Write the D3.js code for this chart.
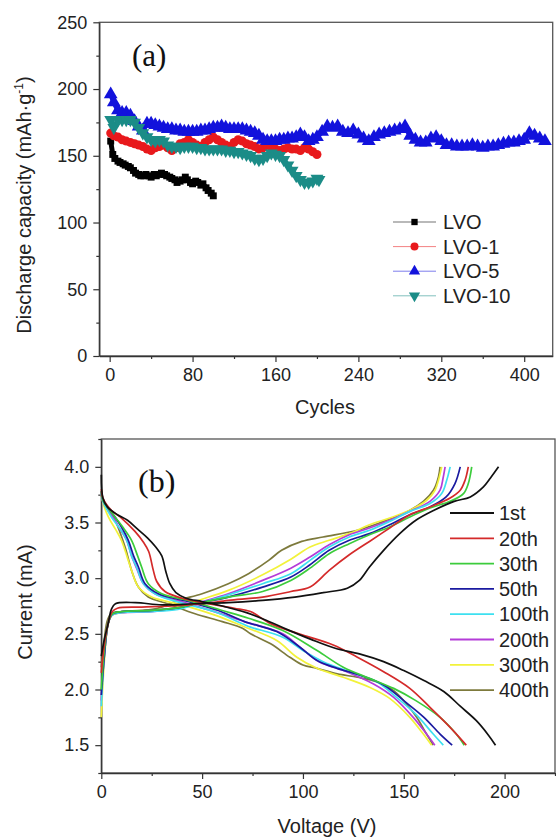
<!DOCTYPE html>
<html>
<head>
<meta charset="utf-8">
<script src="https://cdn.jsdelivr.net/npm/d3@7"></script>
<style>
  body { margin: 0; background: #fff; }
  svg { display: block; }
</style>
</head>
<body>
<script>
// ---- panel (a) data: [cycle, discharge capacity]
const lvo = [[1,161],[3,151],[5,148],[8,146],[10,145],[13,144],[15,143],[18,142],[20,141],[23,139],[25,137],[28,136],[30,135],[33,135],[35,136],[38,135],[40,134],[43,136],[45,135],[48,136],[50,137],[53,136],[55,135],[58,134],[60,133],[63,132],[65,130],[68,131],[70,132],[73,134],[75,132],[78,130],[80,129],[83,131],[85,130],[88,128],[90,129],[93,126],[95,124],[98,122],[100,120]];
const lvo1 = [[1,167],[4,165],[8,164],[12,162],[16,161],[20,160],[24,159],[28,158],[32,157],[36,155],[40,154],[44,156],[48,157],[52,158],[56,156],[60,154],[64,156],[68,159],[72,160],[76,162],[80,160],[84,158],[88,157],[92,160],[96,162],[100,164],[104,162],[108,160],[112,158],[116,157],[120,160],[124,162],[128,161],[132,159],[136,158],[140,157],[144,155],[148,156],[152,158],[156,156],[160,155],[164,154],[168,155],[172,156],[176,155],[180,155],[184,154],[188,156],[192,155],[196,153],[200,151]];
const lvo5 = [[1,196],[4,190],[8,184],[12,182],[16,182],[20,180],[24,176],[28,172],[32,169],[36,174],[40,174],[44,173],[48,172],[52,171],[56,170],[60,170],[64,169],[68,169],[72,168],[76,168],[80,168],[84,168],[88,169],[92,169],[96,170],[100,171],[104,171],[108,172],[112,171],[116,170],[120,170],[124,170],[128,170],[132,169],[136,168],[140,167],[144,165],[148,162],[152,161],[156,161],[160,161],[164,162],[168,162],[172,163],[176,163],[180,164],[184,166],[188,164],[192,161],[196,162],[200,164],[205,168],[210,172],[215,171],[220,172],[225,168],[230,167],[235,169],[240,166],[245,163],[250,161],[255,164],[260,166],[265,167],[270,168],[275,169],[280,170],[285,172],[290,165],[295,162],[300,160],[305,160],[310,163],[315,164],[320,161],[325,158],[330,158],[335,157],[340,157],[345,157],[350,158],[355,157],[360,156],[365,157],[370,157],[375,158],[380,159],[385,160],[390,160],[395,161],[400,162],[405,167],[410,165],[415,163],[420,161]];
const lvo10 = [[1,177],[4,171],[8,177],[12,177],[16,177],[20,177],[24,175],[28,171],[32,167],[36,164],[40,162],[44,161],[48,162],[52,161],[56,158],[60,157],[64,157],[68,156],[72,157],[76,157],[80,157],[84,156],[88,156],[92,155],[96,155],[100,155],[104,155],[108,155],[112,154],[116,154],[120,153],[124,153],[128,152],[132,151],[136,150],[140,148],[144,147],[148,148],[152,150],[156,152],[160,151],[164,150],[168,147],[172,143],[176,139],[180,135],[184,132],[188,130],[192,130],[196,131],[200,133],[202,132]];
const sampleNames = ["LVO", "LVO-1", "LVO-5", "LVO-10"];
const cycleTicks = [0, 80, 160, 240, 320, 400];
const cycleMinorTicks = [40, 120, 200, 280, 360];
const capacityTicks = [0, 50, 100, 150, 200, 250];
const capacityMinorTicks = [25, 75, 125, 175, 225];

// ---- panel (b) data: [x, current] per cycle
const cycleNames = ["1st", "20th", "30th", "50th", "100th", "200th", "300th", "400th"];
const discharge1st = [[0,3.93],[0.8,3.72],[3,3.64],[8,3.57],[13,3.52],[18,3.44],[23,3.36],[27,3.28],[30,3.2],[32,3.06],[34,2.95],[37,2.87],[42,2.82],[50,2.79],[60,2.75],[72,2.69],[82,2.62],[92,2.54],[104,2.45],[116,2.37],[128,2.32],[140,2.25],[150,2.17],[160,2.08],[170,1.98],[178,1.85],[186,1.72],[192,1.59],[195.5,1.5]];
const discharge20th = [[0,3.8],[0.8,3.72],[5,3.61],[10,3.54],[16.7,3.42],[21,3.32],[23.5,3.24],[25.8,3.07],[27.5,2.97],[31.6,2.88],[40,2.82],[53,2.77],[66,2.73],[74,2.7],[84,2.59],[98,2.5],[115,2.4],[127,2.29],[140,2.16],[153,2.01],[163,1.84],[173,1.66],[181,1.5]];
const discharge30th = [[0,3.78],[0.8,3.7],[6.8,3.55],[11,3.45],[15,3.34],[18,3.2],[20,3.1],[23.3,2.95],[30,2.86],[43,2.8],[60,2.71],[73,2.64],[90,2.53],[107,2.35],[120,2.2],[133,2.1],[145,2.01],[156,1.9],[168,1.75],[176,1.6],[180,1.5]];
const discharge50th = [[0,3.78],[0.8,3.7],[6,3.57],[10,3.46],[13.4,3.34],[16,3.2],[18.4,3.1],[21.7,2.95],[28.3,2.86],[43,2.79],[58,2.71],[71,2.61],[87,2.52],[98.5,2.38],[107,2.26],[117,2.19],[128,2.13],[140,2.04],[150,1.9],[160,1.75],[168,1.6],[174,1.5]];
const discharge100th = [[0,3.76],[0.8,3.69],[5,3.55],[9,3.45],[12.6,3.34],[15,3.2],[17.5,3.1],[20.9,2.95],[27.5,2.85],[41.5,2.77],[56,2.7],[70,2.59],[74,2.56],[90,2.47],[100,2.35],[110,2.25],[123,2.16],[136.5,2.07],[146.4,1.93],[156.4,1.77],[164.6,1.6],[169.6,1.5]];
const discharge200th = [[0,3.76],[0.8,3.69],[5,3.57],[9,3.45],[12.6,3.34],[15,3.2],[17.5,3.09],[20.9,2.95],[26.6,2.86],[41.5,2.78],[56,2.7],[71,2.61],[90,2.5],[98.5,2.38],[108,2.25],[121.6,2.16],[135,2.05],[145,1.93],[154.7,1.75],[161.3,1.6],[165.4,1.5]];
const discharge300th = [[0,3.76],[0.8,3.68],[3.5,3.55],[7,3.44],[10,3.34],[13,3.18],[15,3.07],[18.4,2.92],[25,2.83],[40,2.76],[56,2.67],[70,2.57],[87,2.44],[97,2.29],[107,2.19],[120,2.11],[133,2.02],[143,1.92],[153,1.75],[159.7,1.6],[163.8,1.5]];
const discharge400th = [[0,3.74],[3,3.62],[6.8,3.52],[11.8,3.28],[15,3.07],[18.4,2.92],[23.3,2.83],[33,2.77],[46.5,2.68],[60,2.61],[70,2.55],[74,2.5],[84,2.41],[93.5,2.29],[100,2.22],[107,2.19],[117,2.14],[127,2.11],[136.5,2.07],[145,1.99],[151.4,1.87],[156.4,1.75],[161.3,1.6],[164.6,1.5]];
const charge1st = [[0,2.3],[1.5,2.45],[3.5,2.6],[5,2.72],[7,2.77],[17,2.78],[30,2.76],[46,2.77],[63,2.78],[80,2.8],[96,2.83],[110,2.87],[122,2.91],[128,2.98],[133,3.1],[140,3.25],[148,3.4],[156,3.52],[165,3.61],[175,3.69],[183,3.73],[189.5,3.82],[193,3.9],[197,4.0]];
const charge20th = [[0,2.15],[1.5,2.4],[3.5,2.6],[5.5,2.7],[8,2.73],[20,2.74],[35,2.75],[50,2.77],[63,2.8],[80,2.83],[94,2.88],[103.5,2.92],[113,3.07],[123,3.21],[133,3.33],[143,3.45],[153,3.57],[163,3.64],[173,3.72],[178,3.79],[180.4,3.88],[182,4.0]];
const charge30th = [[0,2.0],[1.5,2.35],[3.5,2.6],[5.5,2.68],[10,2.7],[25,2.71],[40,2.74],[47,2.77],[63,2.83],[80,2.88],[94,2.98],[103.5,3.09],[113,3.22],[123,3.31],[133,3.39],[143,3.46],[153,3.55],[163,3.63],[173,3.69],[179.6,3.76],[182,3.85],[183.7,4.0]];
const charge50th = [[0,1.95],[1.5,2.3],[3.5,2.6],[5.5,2.68],[10,2.7],[25,2.71],[40,2.74],[47,2.77],[63,2.83],[80,2.92],[94,3.01],[103.5,3.12],[113,3.25],[123,3.34],[133,3.4],[143,3.48],[153,3.57],[163,3.64],[171,3.73],[175.4,3.85],[178,4.0]];
const charge100th = [[0,1.85],[1.5,2.3],[3.5,2.6],[5.5,2.67],[10,2.69],[25,2.7],[38,2.72],[48,2.77],[63,2.85],[80,2.95],[94,3.04],[103.5,3.16],[113,3.28],[123,3.37],[133,3.43],[143,3.51],[153,3.6],[163,3.67],[168.8,3.76],[171.3,3.88],[173,4.0]];
const charge200th = [[0,1.9],[1.5,2.3],[3.5,2.6],[5.5,2.67],[10,2.69],[25,2.7],[38,2.73],[48,2.78],[63,2.86],[80,2.98],[94,3.09],[103.5,3.19],[113,3.3],[123,3.39],[133,3.45],[143,3.52],[153,3.6],[163,3.69],[168,3.79],[169.5,3.9],[170.5,4.0]];
const charge300th = [[0,1.75],[1.5,2.25],[3.5,2.6],[5.5,2.67],[10,2.69],[25,2.71],[38,2.74],[48,2.8],[63,2.89],[80,3.03],[94,3.17],[103.5,3.28],[113,3.34],[123,3.4],[133,3.48],[143,3.54],[153,3.61],[161.4,3.7],[165.5,3.79],[167.2,3.88],[168.8,4.0]];
const charge400th = [[0,2.2],[1.5,2.45],[3,2.62],[5,2.68],[10,2.7],[20,2.71],[28,2.73],[38,2.8],[50,2.86],[63,2.95],[73,3.04],[83,3.16],[89.4,3.25],[99.4,3.33],[110,3.37],[127,3.43],[140,3.51],[150,3.58],[159.7,3.69],[164.7,3.79],[167.2,3.91],[168,4.0]];
const voltageTicks = [0, 50, 100, 150, 200];
const voltageMinorTicks = [25, 75, 125, 175, 225];
const currentTicks = [1.5, 2.0, 2.5, 3.0, 3.5, 4.0];
const currentMinorTicks = [1.25, 1.75, 2.25, 2.75, 3.25, 3.75, 4.25];

const sansFont = "Arial, 'Liberation Sans', sans-serif",
    serifFont = "'Times New Roman', 'Liberation Serif', serif";

const svg = d3.select("body").append("svg")
    .attr("width", 556)
    .attr("height", 837);

// axis helper: major ticks with labels + minor ticks
function drawAxes(x, y, xTicks, xMinor, yTicks, yMinor, yFormat) {
    const x0 = x.range()[0], x1 = x.range()[1],
        y0 = y.range()[0], y1 = y.range()[1];

    svg.append("rect")
        .attr("x", x0).attr("y", y1)
        .attr("width", x1 - x0).attr("height", y0 - y1)
        .attr("fill", "none")
        .attr("stroke", "#555")
        .attr("stroke-width", 1.3);

    const gx = svg.append("g")
        .attr("transform", "translate(0," + y0 + ")")
        .call(d3.axisBottom(x).tickValues(xTicks).tickSize(6).tickSizeOuter(0).tickPadding(6));
    svg.append("g")
        .attr("transform", "translate(0," + y0 + ")")
        .call(d3.axisBottom(x).tickValues(xMinor).tickSize(3).tickFormat(""))
        .call(function (g) { g.select(".domain").remove(); });

    const gy = svg.append("g")
        .attr("transform", "translate(" + x0 + ",0)")
        .call(d3.axisLeft(y).tickValues(yTicks).tickSize(6).tickSizeOuter(0).tickPadding(6).tickFormat(yFormat));
    svg.append("g")
        .attr("transform", "translate(" + x0 + ",0)")
        .call(d3.axisLeft(y).tickValues(yMinor).tickSize(3).tickFormat(""))
        .call(function (g) { g.select(".domain").remove(); });

    svg.selectAll(".tick line").attr("stroke", "#333").attr("stroke-width", 1.2);
    svg.selectAll(".domain").attr("stroke", "#333").attr("stroke-width", 1.3);
    [gx, gy].forEach(function (g) {
        g.selectAll("text")
            .attr("font-family", sansFont)
            .attr("font-size", 18)
            .attr("fill", "#222");
    });
}

// ================= panel (a) =================
const xA = d3.scaleLinear().domain([-10, 427.5]).range([99.3, 552.7]);
const yA = d3.scaleLinear().domain([0, 250]).range([356, 22.3]);

drawAxes(xA, yA, cycleTicks, cycleMinorTicks, capacityTicks, capacityMinorTicks, d3.format("d"));

const seriesA = [
    { name: sampleNames[0], values: lvo, color: "#000000", symbol: d3.symbolSquare, size: 48, legSize: 40, rotate: 0 },
    { name: sampleNames[1], values: lvo1, color: "#e8191c", symbol: d3.symbolCircle, size: 64, legSize: 50, rotate: 0 },
    { name: sampleNames[2], values: lvo5, color: "#1212dc", symbol: d3.symbolTriangle, size: 82, legSize: 55, rotate: 0 },
    { name: sampleNames[3], values: lvo10, color: "#1b8c87", symbol: d3.symbolTriangle, size: 72, legSize: 55, rotate: 180 }
];

const lineA = d3.line()
    .x(function (d) { return xA(d[0]); })
    .y(function (d) { return yA(d[1]); });

const sA = svg.append("g").selectAll(".series")
    .data(seriesA)
    .enter().append("g")
    .attr("class", "series");

// thick connecting line so the dense markers read as one band
sA.append("path")
    .attr("d", function (d) { return lineA(d.values); })
    .attr("fill", "none")
    .attr("stroke", function (d) { return d.color; })
    .attr("stroke-width", 5)
    .attr("stroke-linejoin", "round");

sA.each(function (s) {
    d3.select(this).selectAll("path.pt")
        .data(s.values)
        .enter().append("path")
        .attr("class", "pt")
        .attr("d", d3.symbol().type(s.symbol).size(s.size))
        .attr("transform", function (d) {
            return "translate(" + xA(d[0]) + "," + yA(d[1]) + ") rotate(" + s.rotate + ")";
        })
        .attr("fill", s.color);
});

// legend (a)
const legA = svg.append("g").selectAll(".leg")
    .data(seriesA)
    .enter().append("g")
    .attr("transform", function (d, i) { return "translate(0," + (222 + i * 24.6) + ")"; });
legA.append("line")
    .attr("x1", 393).attr("x2", 436)
    .attr("stroke", function (d) { return d.color; })
    .attr("stroke-opacity", 0.55)
    .attr("stroke-width", 1);
legA.append("path")
    .attr("d", function (d) { return d3.symbol().type(d.symbol).size(d.legSize)(); })
    .attr("transform", function (d) { return "translate(414.5,0) rotate(" + d.rotate + ")"; })
    .attr("fill", function (d) { return d.color; });
legA.append("text")
    .attr("x", 443).attr("dy", "0.36em")
    .attr("font-family", sansFont).attr("font-size", 20).attr("fill", "#222")
    .text(function (d) { return d.name; });

svg.append("text")
    .attr("x", 132).attr("y", 66)
    .attr("font-family", serifFont).attr("font-size", 31).attr("fill", "#111")
    .text("(a)");

svg.append("text")
    .attr("x", 325).attr("y", 414)
    .attr("text-anchor", "middle")
    .attr("font-family", sansFont).attr("font-size", 20).attr("fill", "#222")
    .text("Cycles");

const yTitleA = svg.append("text")
    .attr("transform", "translate(31,205) rotate(-90)")
    .attr("text-anchor", "middle")
    .attr("font-family", sansFont).attr("font-size", 20).attr("fill", "#222");
yTitleA.append("tspan").text("Discharge capacity (mAh·g");
yTitleA.append("tspan").attr("font-size", 12).attr("dy", -8).text("-1");
yTitleA.append("tspan").attr("dy", 8).text(")");

// ================= panel (b) =================
const xB = d3.scaleLinear().domain([0, 225]).range([101.3, 555]);
const yB = d3.scaleLinear().domain([1.25, 4.25]).range([773, 439]);

drawAxes(xB, yB, voltageTicks, voltageMinorTicks, currentTicks, currentMinorTicks, d3.format(".1f"));

const cycleColors = ["#111111", "#d42a2a", "#3ccc3c", "#1a1aa0", "#3de0f0", "#b43cd8", "#f2f23a", "#7d7a3c"];
const dischargeCurves = [discharge1st, discharge20th, discharge30th, discharge50th, discharge100th, discharge200th, discharge300th, discharge400th];
const chargeCurves = [charge1st, charge20th, charge30th, charge50th, charge100th, charge200th, charge300th, charge400th];

const curveTable = cycleNames.map(function (name, i) {
    return { name: name, color: cycleColors[i], discharge: dischargeCurves[i], charge: chargeCurves[i] };
});

const lineB = d3.line()
    .x(function (d) { return xB(d[0]); })
    .y(function (d) { return yB(d[1]); })
    .curve(d3.curveCatmullRom.alpha(0.5));

// draw later cycles first so 1st sits on top like the reference
const cB = svg.append("g").selectAll(".cycle")
    .data(curveTable.slice().reverse())
    .enter().append("g")
    .attr("class", "cycle");

cB.append("path")
    .attr("d", function (d) { return lineB(d.discharge); })
    .attr("fill", "none")
    .attr("stroke", function (d) { return d.color; })
    .attr("stroke-width", 1.7);
cB.append("path")
    .attr("d", function (d) { return lineB(d.charge); })
    .attr("fill", "none")
    .attr("stroke", function (d) { return d.color; })
    .attr("stroke-width", 1.7);

// legend (b)
const legB = svg.append("g").selectAll(".legb")
    .data(curveTable)
    .enter().append("g")
    .attr("transform", function (d, i) { return "translate(0," + (513 + i * 25.3) + ")"; });
legB.append("line")
    .attr("x1", 450).attr("x2", 494)
    .attr("stroke", function (d) { return d.color; })
    .attr("stroke-width", 1.8);
legB.append("text")
    .attr("x", 499).attr("dy", "0.36em")
    .attr("font-family", sansFont).attr("font-size", 20).attr("fill", "#222")
    .text(function (d) { return d.name; });

svg.append("text")
    .attr("x", 138).attr("y", 492)
    .attr("font-family", serifFont).attr("font-size", 32).attr("fill", "#111")
    .text("(b)");

svg.append("text")
    .attr("x", 327).attr("y", 833)
    .attr("text-anchor", "middle")
    .attr("font-family", sansFont).attr("font-size", 20).attr("fill", "#222")
    .text("Voltage (V)");

svg.append("text")
    .attr("transform", "translate(32,602) rotate(-90)")
    .attr("text-anchor", "middle")
    .attr("font-family", sansFont).attr("font-size", 20).attr("fill", "#222")
    .text("Current (mA)");
</script>
</body>
</html>
